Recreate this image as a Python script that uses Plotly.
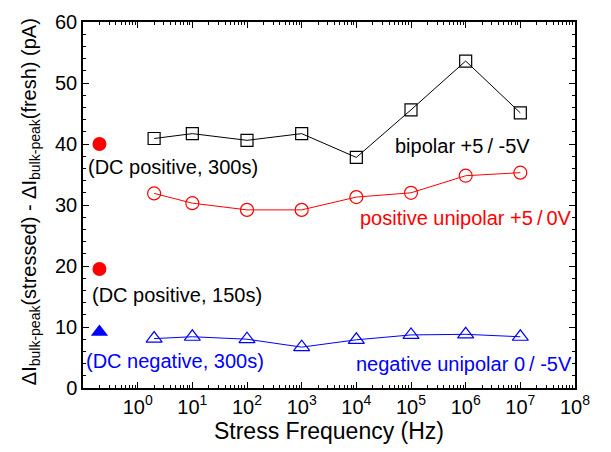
import plotly.graph_objects as go

# Stress frequency (Hz) for the AC stress series
freq = [2, 10, 100, 1e3, 1e4, 1e5, 1e6, 1e7]

# Delta I_bulk-peak (stressed - fresh), pA
bipolar = [40.9, 41.7, 40.6, 41.7, 37.8, 45.6, 53.6, 45.1]
pos_unipolar = [31.9, 30.3, 29.2, 29.2, 31.3, 32.0, 34.8, 35.3]
neg_unipolar = [8.1, 8.4, 8.0, 6.7, 7.9, 8.7, 8.8, 8.4]

# DC stress reference points (plotted at a nominal position left of 1 Hz)
dc_x = 0.2
dc_pos_300 = 40.0
dc_pos_150 = 19.5
dc_neg_300 = 9.2

tick_vals = [1, 10, 100, 1e3, 1e4, 1e5, 1e6, 1e7, 1e8]
tick_text = ["10<sup>%d</sup>" % i for i in range(9)]

FONT = "Liberation Sans, Arial, sans-serif"

fig = go.Figure()

fig.add_trace(go.Scatter(
    x=freq, y=bipolar, mode="lines+markers",
    line=dict(color="black", width=1),
    marker=dict(symbol="square-open", size=12, color="black", line=dict(width=1.2)),
))
fig.add_trace(go.Scatter(
    x=freq, y=pos_unipolar, mode="lines+markers",
    line=dict(color="#ff0000", width=1),
    marker=dict(symbol="circle-open", size=13, color="#ff0000", line=dict(width=1.2)),
))
fig.add_trace(go.Scatter(
    x=freq, y=neg_unipolar, mode="lines+markers",
    line=dict(color="#0000ff", width=1),
    marker=dict(symbol="triangle-up-open", size=14, color="#0000ff", line=dict(width=1.2)),
))
fig.add_trace(go.Scatter(
    x=[dc_x, dc_x], y=[dc_pos_300, dc_pos_150], mode="markers",
    marker=dict(symbol="circle", size=14, color="#ff0000"),
))
fig.add_trace(go.Scatter(
    x=[dc_x], y=[dc_neg_300], mode="markers",
    marker=dict(symbol="triangle-up", size=15, color="#0000ff"),
))

annotations = [
    dict(x=-0.95, y=36.3, text="(DC positive, 300s)", color="black", anchor="left"),
    dict(x=-0.88, y=15.2, text="(DC positive, 150s)", color="black", anchor="left"),
    dict(x=-0.975, y=4.45, text="(DC negative, 300s)", color="#0000ff", anchor="left"),
    dict(x=7.22, y=39.6, text="bipolar +5\u2009/ -5V", color="black", anchor="right"),
    dict(x=7.99, y=27.8, text="positive unipolar +5\u2009/\u20090V", color="#ff0000", anchor="right"),
    dict(x=7.99, y=4.0, text="negative unipolar 0\u2009/ -5V", color="#0000ff", anchor="right"),
]
for a in annotations:
    fig.add_annotation(
        x=a["x"], y=a["y"], xref="x", yref="y", text=a["text"], showarrow=False,
        xanchor=a["anchor"], yanchor="middle",
        font=dict(family=FONT, size=20, color=a["color"]),
    )

# Rotated y-axis title placed explicitly beside the tick labels
fig.add_annotation(
    x=-0.108, y=0.51, xref="paper", yref="paper",
    text="ΔI<sub>bulk-peak</sub>(stressed) - ΔI<sub>bulk-peak</sub>(fresh) (pA)",
    textangle=-90, showarrow=False, xanchor="center", yanchor="middle",
    font=dict(family=FONT, size=20, color="black"),
)

axis_common = dict(
    showline=True, linecolor="black", linewidth=1.5, mirror="ticks",
    ticks="inside", ticklen=6, tickwidth=1.2, tickcolor="black",
    showgrid=False, zeroline=False,
    tickfont=dict(family=FONT, size=20, color="black"),
)

fig.update_xaxes(
    type="log", range=[-1, 8],
    tickvals=tick_vals, ticktext=tick_text,
    minor=dict(ticks="inside", ticklen=3, tickwidth=1, tickcolor="black",
               dtick="D1", showgrid=False),
    title=dict(text="Stress Frequency (Hz)", font=dict(family=FONT, size=23, color="black"),
               standoff=0),
    **axis_common,
)
fig.update_yaxes(
    range=[0, 60], dtick=10,
    minor=dict(ticks="inside", ticklen=3, tickwidth=1, tickcolor="black",
               dtick=2, showgrid=False),
    **axis_common,
)

fig.update_layout(
    width=611, height=452,
    margin=dict(l=83, r=36, t=22, b=64),
    plot_bgcolor="white", paper_bgcolor="white",
    showlegend=False,
)

fig.write_html("out.html")
